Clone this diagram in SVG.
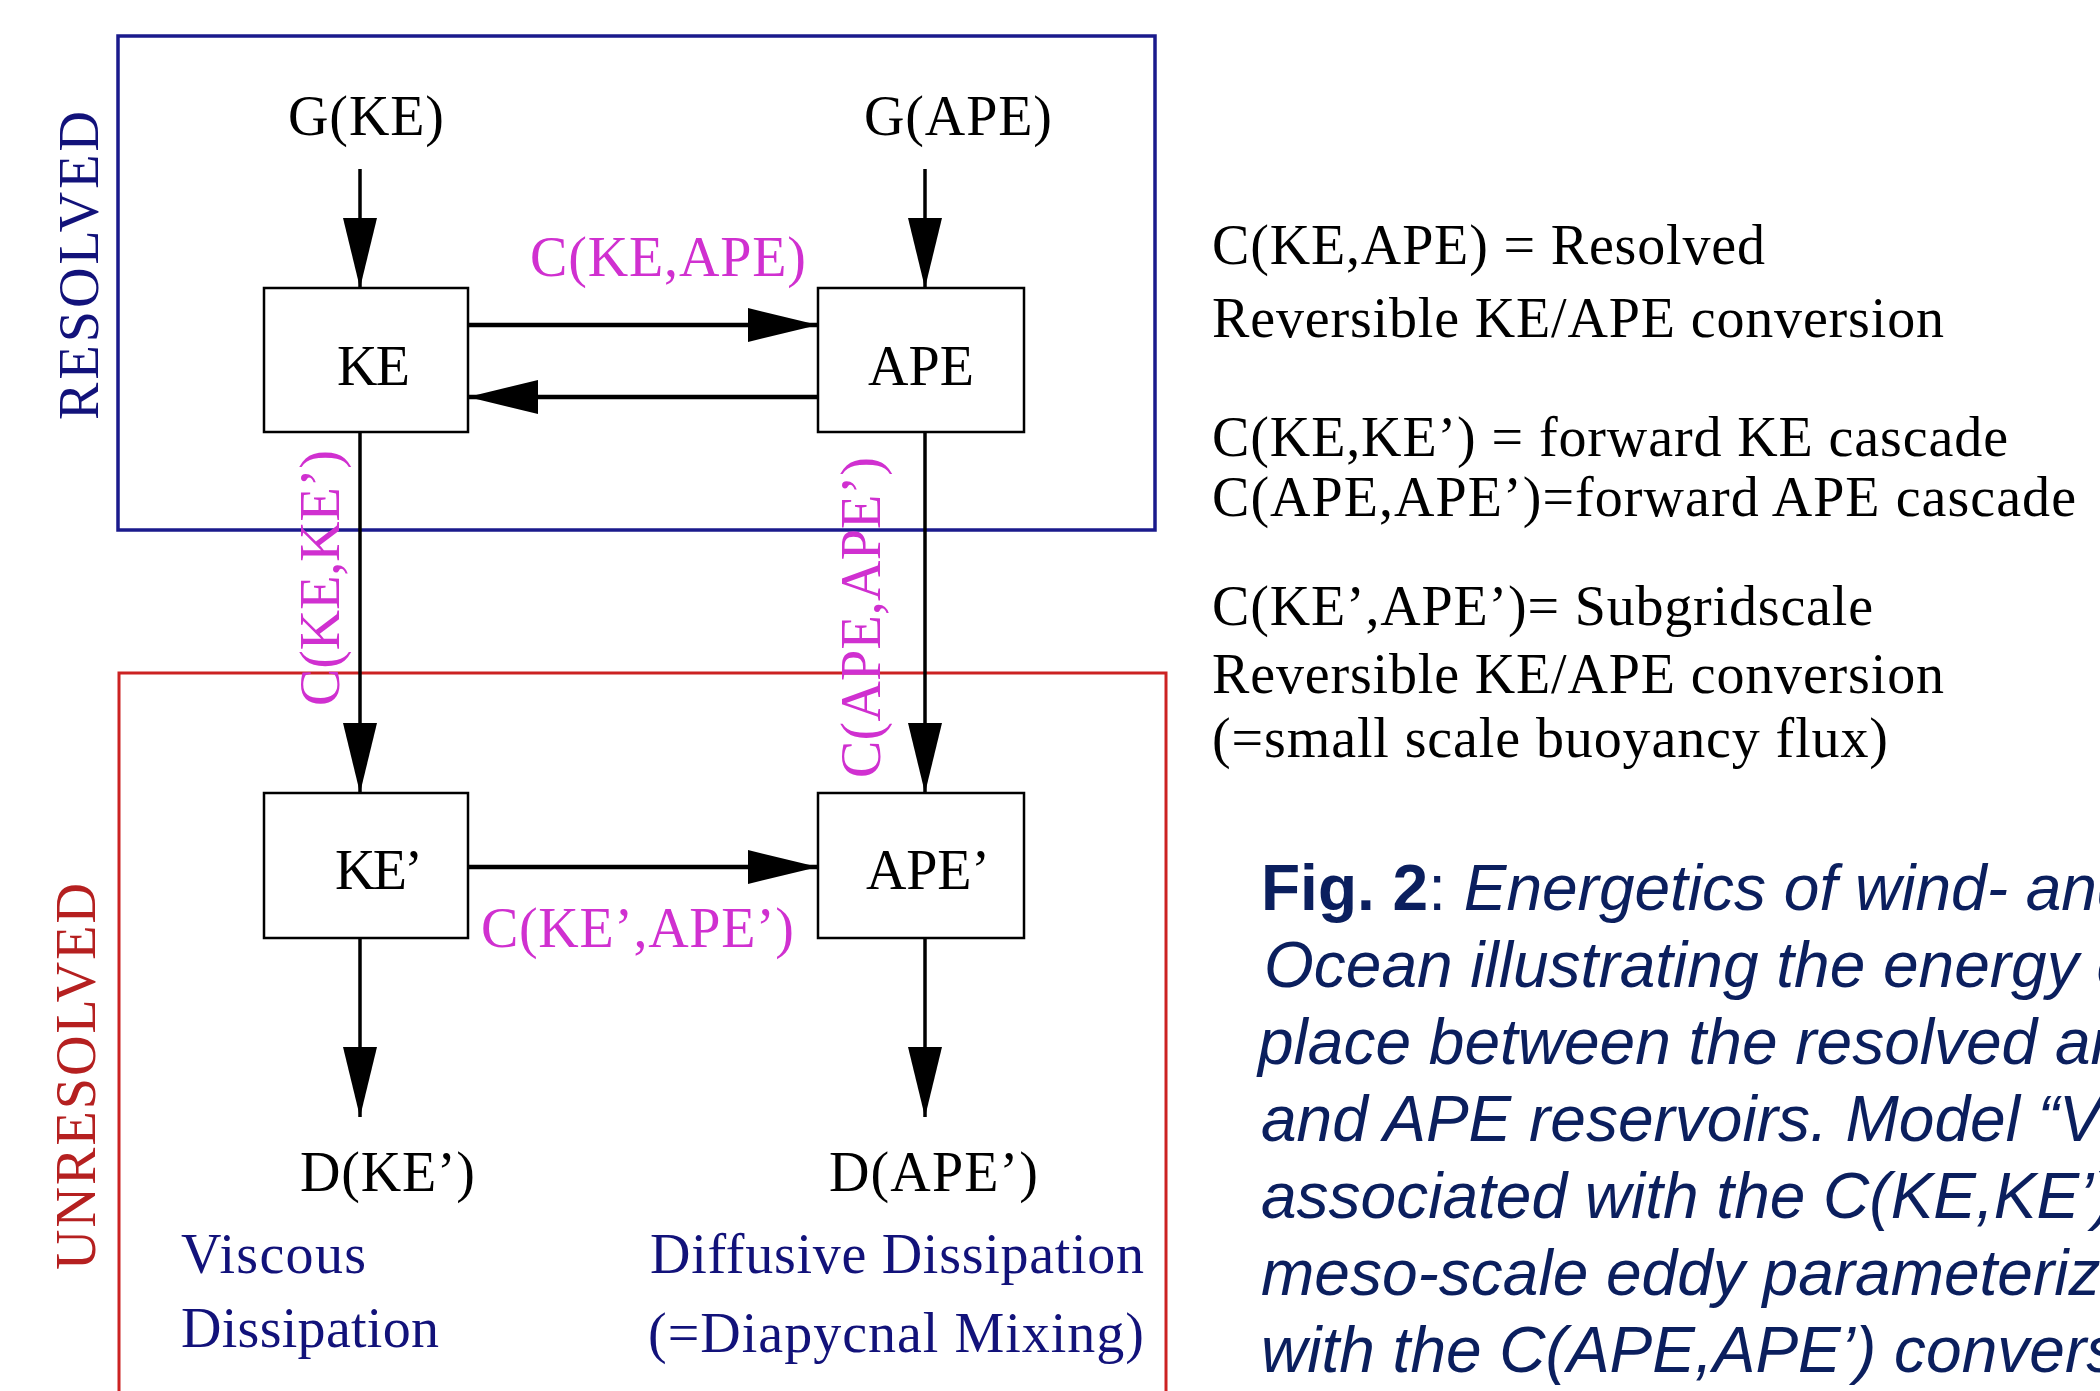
<svg xmlns="http://www.w3.org/2000/svg" width="2100" height="1391" viewBox="0 0 2100 1391">
<style>
  .t { font-family: "Liberation Serif", "Times New Roman", serif; font-size: 56px; fill: #000; }
  .m { font-family: "Liberation Serif", "Times New Roman", serif; font-size: 56px; fill: #d030d0; }
  .b { font-family: "Liberation Serif", "Times New Roman", serif; font-size: 56px; fill: #12127a; }
  .box { fill: #fff; stroke: #000; stroke-width: 2.5; }
  .ln { stroke: #000; stroke-width: 3.5; fill: none; marker-end: url(#ah); }
  .lnh { stroke: #000; stroke-width: 4.5; fill: none; marker-end: url(#ah); }
  .cap { font-family: "Liberation Sans", Arial, sans-serif; font-size: 64px; fill: #0b1f5e; font-style: italic; }
</style>
<defs>
  <marker id="ah" markerUnits="userSpaceOnUse" markerWidth="72" markerHeight="36" refX="70" refY="17" orient="auto">
    <path d="M0,0 L70,17 L0,34 Z" fill="#000"/>
  </marker>
</defs>
<rect width="2100" height="1391" fill="#fff"/>

<g id="region-resolved">
  <rect x="118" y="36" width="1037" height="494" fill="none" stroke="#1a1a8c" stroke-width="3.5"/>
  <text class="b" font-size="58" fill="#10106e" transform="translate(98,420) rotate(-90)" textLength="309">RESOLVED</text>
</g>
<g id="region-unresolved">
  <rect x="119" y="673" width="1047" height="740" fill="none" stroke="#cc2222" stroke-width="3"/>
  <text class="t" font-size="58" style="fill:#b52020" transform="translate(95,1270) rotate(-90)" textLength="387">UNRESOLVED</text>
</g>

<g id="connectors">
  <line class="ln" x1="360" y1="169" x2="360" y2="288"/>
  <line class="ln" x1="925" y1="169" x2="925" y2="288"/>
  <line class="lnh" x1="468" y1="325" x2="818" y2="325"/>
  <line class="lnh" x1="818" y1="397" x2="468" y2="397"/>
  <line class="ln" x1="360" y1="432" x2="360" y2="793"/>
  <line class="ln" x1="925" y1="432" x2="925" y2="793"/>
  <line class="lnh" x1="468" y1="867" x2="818" y2="867"/>
  <line class="ln" x1="360" y1="938" x2="360" y2="1117"/>
  <line class="ln" x1="925" y1="938" x2="925" y2="1117"/>
  <text class="m" x="530" y="276" textLength="276">C(KE,APE)</text>
  <text class="m" transform="translate(339,706) rotate(-90)" textLength="256">C(KE,KE’)</text>
  <text class="m" transform="translate(880,778) rotate(-90)" textLength="321">C(APE,APE’)</text>
  <text class="m" x="481" y="947" textLength="313">C(KE’,APE’)</text>
</g>

<g id="node-gke"><text class="t" x="288" y="135" textLength="156">G(KE)</text></g>
<g id="node-gape"><text class="t" x="864" y="135" textLength="188">G(APE)</text></g>
<g id="node-ke">
  <rect class="box" x="264" y="288" width="204" height="144"/>
  <text class="t" x="337" y="385" textLength="73">KE</text>
</g>
<g id="node-ape">
  <rect class="box" x="818" y="288" width="206" height="144"/>
  <text class="t" x="868" y="385" textLength="106">APE</text>
</g>
<g id="node-ke2">
  <rect class="box" x="264" y="793" width="204" height="145"/>
  <text class="t" x="335" y="889" textLength="88">KE’</text>
</g>
<g id="node-ape2">
  <rect class="box" x="818" y="793" width="206" height="145"/>
  <text class="t" x="866" y="889" textLength="124">APE’</text>
</g>
<g id="node-dke">
  <text class="t" x="300" y="1191" textLength="175">D(KE’)</text>
  <text class="b" x="181" y="1273" textLength="185">Viscous</text>
  <text class="b" x="181" y="1347" textLength="258">Dissipation</text>
</g>
<g id="node-dape">
  <text class="t" x="829" y="1191" textLength="209">D(APE’)</text>
  <text class="b" x="650" y="1273" textLength="494">Diffusive Dissipation</text>
  <text class="b" x="648" y="1352" textLength="496">(=Diapycnal Mixing)</text>
</g>

<g id="legend">
  <text class="t" x="1212" y="264" textLength="553">C(KE,APE) = Resolved</text>
  <text class="t" x="1212" y="337" textLength="732">Reversible KE/APE conversion</text>
  <text class="t" x="1212" y="456" textLength="796">C(KE,KE’) = forward KE cascade</text>
  <text class="t" x="1212" y="516" textLength="864">C(APE,APE’)=forward APE cascade</text>
  <text class="t" x="1212" y="625" textLength="661">C(KE’,APE’)= Subgridscale</text>
  <text class="t" x="1212" y="693" textLength="732">Reversible KE/APE conversion</text>
  <text class="t" x="1212" y="757" textLength="676">(=small scale buoyancy flux)</text>
</g>

<g id="caption">
  <text class="cap" x="1261" y="910"><tspan font-weight="bold" font-style="normal">Fig. 2</tspan><tspan font-style="normal">:</tspan> Energetics of wind- and</text>
  <text class="cap" x="1264" y="987">Ocean illustrating the energy c</text>
  <text class="cap" x="1258" y="1064">place between the resolved an</text>
  <text class="cap" x="1261" y="1141">and APE reservoirs. Model “V</text>
  <text class="cap" x="1261" y="1218">associated with the C(KE,KE’)</text>
  <text class="cap" x="1261" y="1295">meso-scale eddy parameteriza</text>
  <text class="cap" x="1261" y="1372">with the C(APE,APE’) convers</text>
</g>
</svg>
